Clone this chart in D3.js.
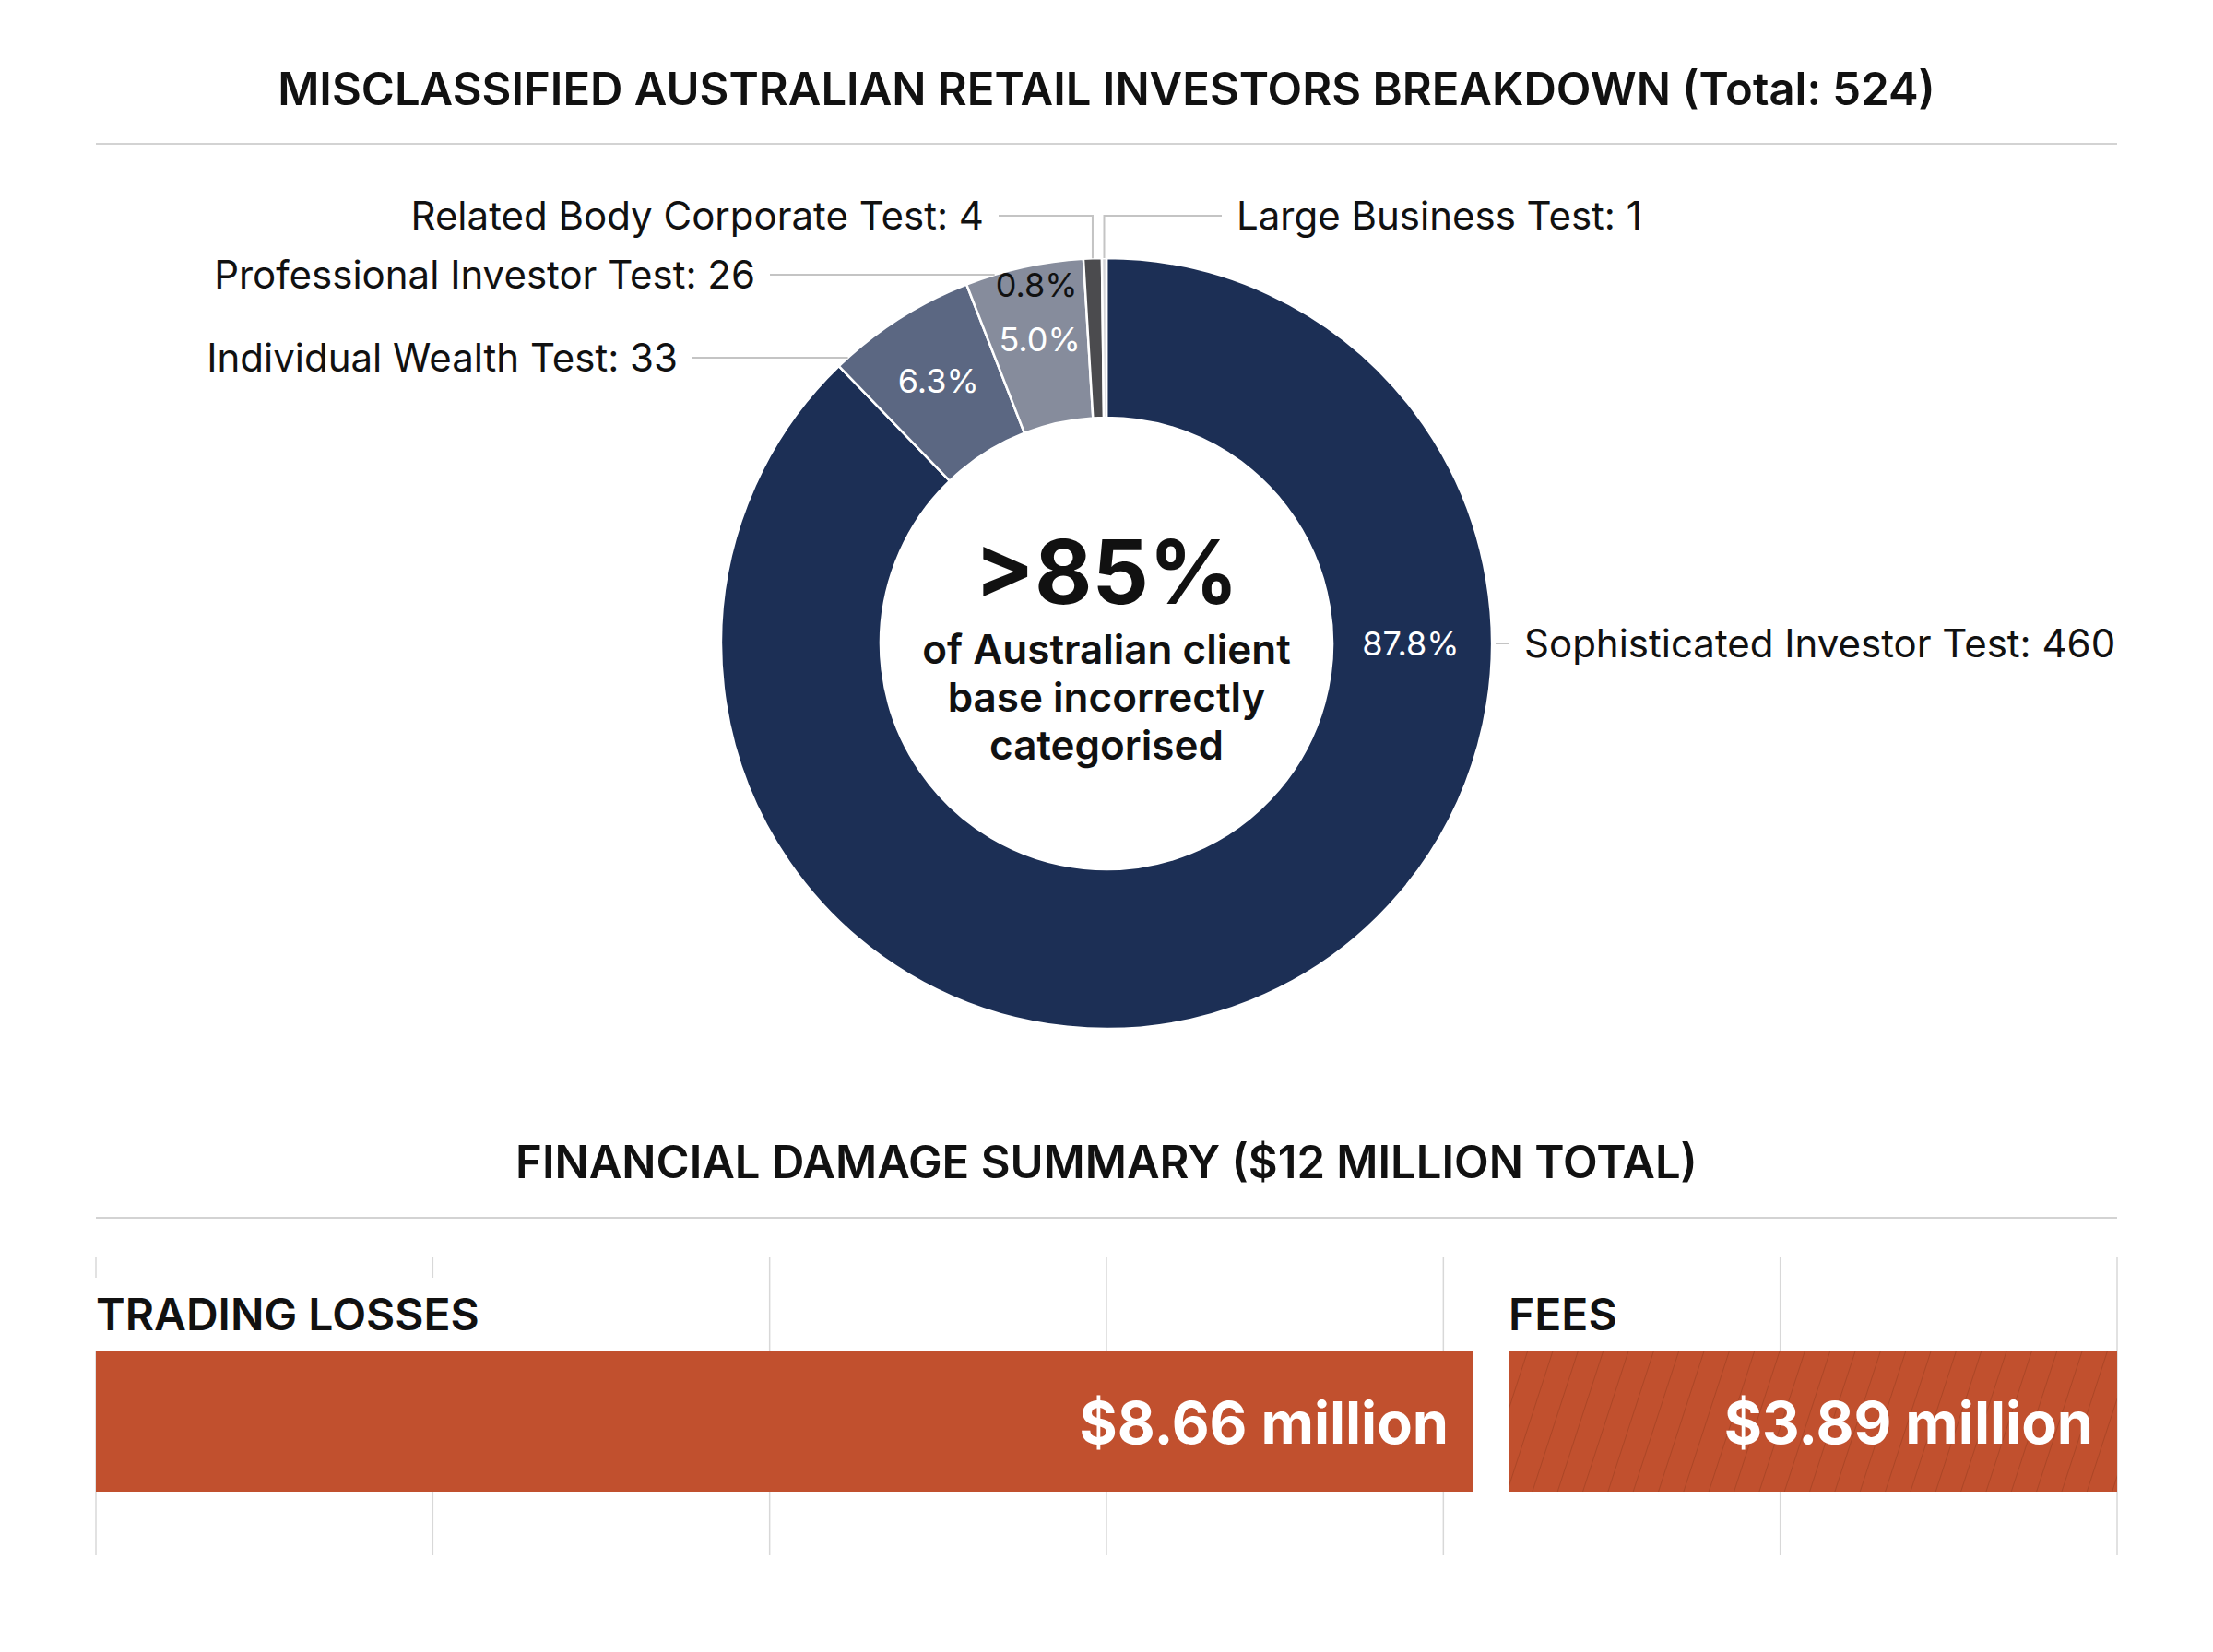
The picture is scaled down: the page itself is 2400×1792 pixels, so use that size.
<!DOCTYPE html>
<html>
<head>
<meta charset="utf-8">
<script src="https://cdn.jsdelivr.net/npm/d3@7/dist/d3.min.js"></script>
<style>
  html, body { margin: 0; padding: 0; background: #ffffff; }
  svg { display: block; font-family: Inter, "Noto Sans", sans-serif; }
</style>
</head>
<body>
<svg id="chart" width="2400" height="1792"></svg>
<script>
// ---------- DATA ----------
const pieTitle = "MISCLASSIFIED AUSTRALIAN RETAIL INVESTORS BREAKDOWN (Total: 524)";
const testNames = ["Sophisticated Investor Test", "Individual Wealth Test", "Professional Investor Test", "Related Body Corporate Test", "Large Business Test"];
const testCounts = [460, 33, 26, 4, 1];
const testPercentLabels = ["87.8%", "6.3%", "5.0%", "0.8%", ""];
const centerHeadline = ">85%";
const centerLines = ["of Australian client", "base incorrectly", "categorised"];

const barTitle = "FINANCIAL DAMAGE SUMMARY ($12 MILLION TOTAL)";
const damageCategories = ["TRADING LOSSES", "FEES"];
const damageValues = [8.66, 3.89];
const damageLabels = ["$8.66 million", "$3.89 million"];

// ---------- STYLE / LAYOUT ----------
const W = 2400, H = 1792;
const sliceColors = ["#1c2f55", "#5b6782", "#868c9c", "#4b4b4e", "#d6d6d9"];
const pctTextColors = ["#ffffff", "#ffffff", "#ffffff", "#111111", "#111111"];
const ruleColor = "#d3d3d3";
const leaderColor = "#c4c4c4";
const barColor = "#c1502e";
const gridColor = "#d8d8d8";

const svg = d3.select("#chart");
svg.append("rect").attr("width", W).attr("height", H).attr("fill", "#ffffff");

const left = 104, right = 2296, midX = 1200;

// ---------- TITLE 1 ----------
svg.append("text").attr("x", midX).attr("y", 114)
  .attr("text-anchor", "middle").attr("font-size", 49).attr("font-weight", 600)
  .attr("fill", "#111").text(pieTitle);
svg.append("line").attr("x1", left).attr("x2", right).attr("y1", 156).attr("y2", 156)
  .attr("stroke", ruleColor).attr("stroke-width", 2);

// ---------- DONUT ----------
const cx = 1200, cy = 698, R = 418, r0 = 245;
const pieData = testNames.map((n, i) => ({ name: n, value: testCounts[i], pct: testPercentLabels[i], i }));
const pie = d3.pie().value(d => d.value).sort(null).startAngle(0).endAngle(2 * Math.PI);
const arcs = pie(pieData);
const arc = d3.arc().innerRadius(r0).outerRadius(R);

const g = svg.append("g").attr("transform", `translate(${cx},${cy})`);
g.selectAll("path.slice").data(arcs).enter().append("path")
  .attr("class", "slice")
  .attr("d", arc)
  .attr("fill", d => sliceColors[d.data.i])
  .attr("stroke", "#ffffff").attr("stroke-width", 2.5).attr("stroke-linejoin", "round");

// percent labels
const labelR = 338;
function pt(angle, rad) { return [Math.sin(angle) * rad, -Math.cos(angle) * rad]; }
arcs.forEach(d => {
  if (!d.data.pct) return;
  const mid = (d.startAngle + d.endAngle) / 2;
  let x, y, anchor = "middle";
  if (d.data.i === 0) {           // big slice: label at 3 o'clock next to its leader
    [x, y] = pt(Math.PI / 2, 330);
  } else if ((d.endAngle - d.startAngle) < 0.08) {   // thin slice: label beside it
    [x, y] = pt(d.startAngle, 390);
    x -= 8; anchor = "end";
  } else {
    [x, y] = pt(mid, labelR);
  }
  g.append("text").attr("x", x).attr("y", y + 13)
    .attr("text-anchor", anchor).attr("font-size", 36).attr("font-weight", 400)
    .attr("fill", pctTextColors[d.data.i]).text(d.data.pct);
});

// outside labels + leaders
const outer = [
  { i: 3, y: 234, anchor: "end", x: 1067, mode: "elbow" },
  { i: 4, y: 234, anchor: "start", x: 1341, mode: "elbow" },
  { i: 2, y: 298, anchor: "end", x: 819, mode: "flat" },
  { i: 1, y: 388, anchor: "end", x: 735, mode: "flat" },
  { i: 0, y: cy, anchor: "start", x: 1653, mode: "side" }
];
outer.forEach(o => {
  const d = arcs[o.i];
  const mid = (d.startAngle + d.endAngle) / 2;
  const gap = 16;
  let pts;
  if (o.mode === "elbow") {
    const [tx, ty] = pt(mid, R);
    const sx = o.anchor === "end" ? o.x + gap : o.x - gap;
    pts = [[sx, o.y], [cx + tx, o.y], [cx + tx, cy + ty]];
  } else if (o.mode === "flat") {
    const dy = o.y - cy;
    const ex = cx - Math.sqrt(R * R - dy * dy);
    pts = [[o.x + gap, o.y], [ex, o.y]];
  } else {
    const [tx] = pt(Math.PI / 2, R);
    pts = [[cx + tx + 4, o.y], [o.x - gap, o.y]];
  }
  svg.append("path").attr("d", d3.line()(pts))
    .attr("fill", "none").attr("stroke", leaderColor).attr("stroke-width", 2);
  svg.append("text").attr("x", o.x).attr("y", o.y + 15)
    .attr("text-anchor", o.anchor).attr("font-size", 42).attr("font-weight", 400)
    .attr("fill", "#111").text(`${testNames[o.i]}: ${testCounts[o.i]}`);
});

// center text
svg.append("text").attr("x", cx).attr("y", 655).attr("text-anchor", "middle")
  .attr("font-size", 96).attr("font-weight", 700).attr("fill", "#111").text(centerHeadline);
centerLines.forEach((t, k) => {
  svg.append("text").attr("x", cx).attr("y", 720 + k * 52).attr("text-anchor", "middle")
    .attr("font-size", 44).attr("font-weight", 600).attr("fill", "#111").text(t);
});

// ---------- TITLE 2 ----------
svg.append("text").attr("x", midX).attr("y", 1278)
  .attr("text-anchor", "middle").attr("font-size", 49).attr("font-weight", 600)
  .attr("fill", "#111").text(barTitle);
svg.append("line").attr("x1", left).attr("x2", right).attr("y1", 1321).attr("y2", 1321)
  .attr("stroke", ruleColor).attr("stroke-width", 2);

// ---------- BARS ----------
const total = d3.sum(damageValues);
const x = d3.scaleLinear().domain([0, total]).range([left, right]);
const gridTicks = d3.range(7).map(k => k * total / 6);
const barTop = 1465, barBot = 1618, gridTop = 1364, gridBot = 1687, barGap = 39;

svg.append("g").selectAll("line").data(gridTicks).enter().append("line")
  .attr("x1", d => x(d)).attr("x2", d => x(d))
  .attr("y1", gridTop).attr("y2", gridBot)
  .attr("stroke", gridColor).attr("stroke-width", 1.5);

const defs = svg.append("defs");
const pat = defs.append("pattern").attr("id", "hatch").attr("patternUnits", "userSpaceOnUse")
  .attr("width", 26).attr("height", 26).attr("patternTransform", "rotate(18)");
pat.append("rect").attr("width", 26).attr("height", 26).attr("fill", barColor);
pat.append("line").attr("x1", 0).attr("x2", 0).attr("y1", 0).attr("y2", 26)
  .attr("stroke", "#7a2e14").attr("stroke-opacity", 0.4).attr("stroke-width", 1.6);

let cum = 0;
const segs = damageValues.map((v, i) => {
  const s = { i, v, x0: cum, x1: cum + v };
  cum += v;
  return s;
});
segs.forEach(s => {
  const x0 = x(s.x0) + (s.i === 0 ? 0 : barGap / 2);
  const x1 = x(s.x1) - (s.i === segs.length - 1 ? 0 : barGap / 2);
  const lg = svg.append("g");
  const bg = lg.append("rect");
  const lbl = lg.append("text").attr("x", x0).attr("y", 1443)
    .attr("font-size", 48).attr("font-weight", 600).attr("fill", "#111")
    .text(damageCategories[s.i]);
  const bb = lbl.node().getBBox();
  bg.attr("x", x0 - 4).attr("y", 1386).attr("width", bb.width + 24).attr("height", barTop - 1386)
    .attr("fill", "#ffffff");
  svg.append("rect").attr("x", x0).attr("y", barTop).attr("width", x1 - x0).attr("height", barBot - barTop)
    .attr("fill", s.i === 1 ? "url(#hatch)" : barColor);
  svg.append("text").attr("x", x1 - 26).attr("y", (barTop + barBot) / 2 + 24)
    .attr("text-anchor", "end").attr("font-size", 63).attr("font-weight", 700)
    .attr("fill", "#ffffff").text(damageLabels[s.i]);
});
</script>
</body>
</html>
